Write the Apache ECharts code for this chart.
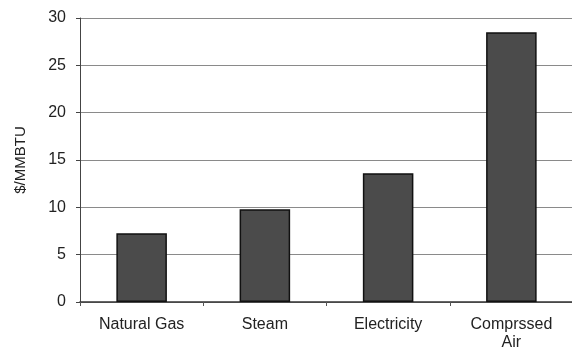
<!DOCTYPE html>
<html>
<head>
<meta charset="utf-8">
<script src="https://cdn.jsdelivr.net/npm/echarts@6/dist/echarts.min.js"></script>
<style>html,body{margin:0;padding:0;background:#fff}#c{width:572px;height:351px}</style>
</head>
<body>
<div id="c"></div>
<script>
var categories = ['Natural Gas', 'Steam', 'Electricity', 'Comprssed\nAir'];
var values = [7.25, 9.8, 13.6, 28.5];
var yTicks = [0, 5, 10, 15, 20, 25, 30];

var chart = echarts.init(document.getElementById('c'), null, {renderer: 'canvas'});
chart.setOption({
  animation: false,
  grid: {left: 80, top: 18, width: 493, height: 284, containLabel: false, outerBoundsMode: 'none'},
  xAxis: {
    type: 'category',
    data: categories,
    boundaryGap: true,
    axisLine: {lineStyle: {color: '#333', width: 1.5}},
    axisTick: {show: true, length: 4, inside: false, lineStyle: {color: '#555'}},
    axisLabel: {color: '#222', fontSize: 16, fontFamily: 'Liberation Sans, Arial', margin: 14, lineHeight: 18}
  },
  yAxis: {
    type: 'value',
    min: yTicks[0],
    max: yTicks[yTicks.length - 1],
    interval: 5,
    name: '$/MMBTU',
    nameLocation: 'middle',
    nameGap: 52,
    nameRotate: 90,
    nameTextStyle: {color: '#222', fontSize: 15, fontFamily: 'Liberation Sans, Arial'},
    axisLine: {show: true, lineStyle: {color: '#444', width: 1}},
    axisTick: {show: true, length: 4, lineStyle: {color: '#444'}},
    axisLabel: {color: '#222', fontSize: 16, fontFamily: 'Liberation Sans, Arial', margin: 14},
    splitLine: {show: true, lineStyle: {color: '#8a8a8a', width: 1}}
  },
  series: [{
    type: 'bar',
    data: values,
    barWidth: '41%',
    itemStyle: {color: '#4b4b4b', borderColor: '#111', borderWidth: 1.5}
  }]
});
</script>
</body>
</html>
